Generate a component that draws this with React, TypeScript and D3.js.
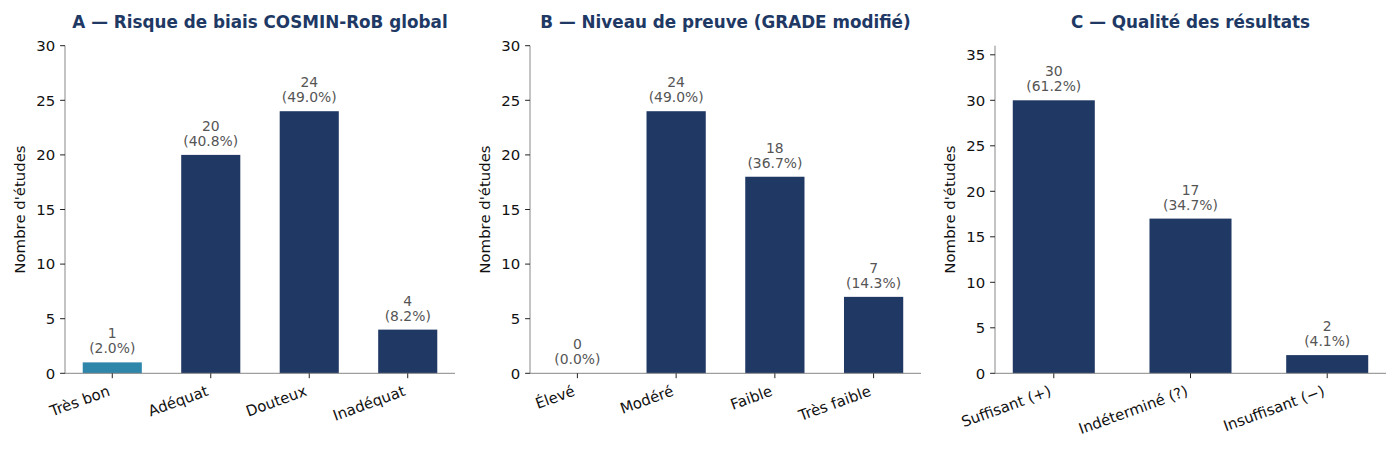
import React from "react";
import * as d3 from "d3";

const titles = [
  "A — Risque de biais COSMIN-RoB global",
  "B — Niveau de preuve (GRADE modifié)",
  "C — Qualité des résultats",
];
const catsA = ["Très bon", "Adéquat", "Douteux", "Inadéquat"];
const valsA = [1, 20, 24, 4];
const pctA = ["2.0%", "40.8%", "49.0%", "8.2%"];
const catsB = ["Élevé", "Modéré", "Faible", "Très faible"];
const valsB = [0, 24, 18, 7];
const pctB = ["0.0%", "49.0%", "36.7%", "14.3%"];
const catsC = ["Suffisant (+)", "Indéterminé (?)", "Insuffisant (−)"];
const valsC = [30, 17, 2];
const pctC = ["61.2%", "34.7%", "4.1%"];
const yMaxes = [30, 30, 36];
const yTicksA = [0, 5, 10, 15, 20, 25, 30];
const yTicksC = [0, 5, 10, 15, 20, 25, 30, 35];
const yLabel = "Nombre d'études";

const NAVY = "#203864";
const TEAL = "#2e86ab";
const FONT = "DejaVu Sans, sans-serif";

type PanelProps = {
  x0: number;
  x1: number;
  title: string;
  cats: string[];
  vals: number[];
  pcts: string[];
  yMax: number;
  ticks: number[];
  colors: string[];
};

function Panel({ x0, x1, title, cats, vals, pcts, yMax, ticks, colors }: PanelProps) {
  const top = 45.7;
  const bottom = 373.3;
  const n = cats.length;
  const span = n - 1 + 0.6;
  const m = span * 0.05;
  const x = d3.scaleLinear().domain([-0.3 - m, n - 1 + 0.3 + m]).range([x0, x1]);
  const y = d3.scaleLinear().domain([0, yMax]).range([bottom, top]);
  const bw = x(0.6) - x(0);
  const tl = 4.9;
  const pad = 4.9;
  return (
    <g>
      <text
        x={(x0 + x1) / 2}
        y={27.5}
        textAnchor="middle"
        fontFamily={FONT}
        fontWeight="bold"
        fontSize={16.8}
        fill={NAVY}
      >
        {title}
      </text>
      {vals.map((v, i) => (
        <rect
          key={"b" + i}
          x={x(i) - bw / 2}
          y={y(v)}
          width={bw}
          height={bottom - y(v)}
          fill={colors[i]}
        />
      ))}
      {vals.map((v, i) => (
        <text
          key={"v" + i}
          x={x(i)}
          textAnchor="middle"
          fontFamily={FONT}
          fontSize={13.9}
          fill="#555"
        >
          <tspan x={x(i)} y={y(v) - 24}>{v}</tspan>
          <tspan x={x(i)} y={y(v) - 9}>({pcts[i]})</tspan>
        </text>
      ))}
      <line x1={x0} x2={x0} y1={top} y2={bottom} stroke="#888" strokeWidth={1} />
      <line x1={x0} x2={x1} y1={bottom} y2={bottom} stroke="#888" strokeWidth={1} />
      {ticks.map((t) => (
        <g key={"t" + t}>
          <line x1={x0 - tl} x2={x0} y1={y(t)} y2={y(t)} stroke="#222" strokeWidth={1} />
          <text
            x={x0 - tl - pad}
            y={y(t)}
            dy="0.36em"
            textAnchor="end"
            fontFamily={FONT}
            fontSize={14.9}
            fill="#111"
          >
            {t}
          </text>
        </g>
      ))}
      {cats.map((c, i) => {
        const ax = x(i) - 1.5;
        const ay = bottom + 21.8;
        return (
          <g key={"c" + i}>
            <line x1={x(i)} x2={x(i)} y1={bottom} y2={bottom + tl} stroke="#222" strokeWidth={1} />
            <text
              x={ax}
              y={ay}
              textAnchor="end"
              transform={`rotate(-20 ${ax} ${ay})`}
              fontFamily={FONT}
              fontSize={14.9}
              fill="#111"
            >
              {c}
            </text>
          </g>
        );
      })}
      <text
        transform={`translate(${x0 - 40} ${(top + bottom) / 2}) rotate(-90)`}
        textAnchor="middle"
        fontFamily={FONT}
        fontSize={14.9}
        fill="#111"
      >
        {yLabel}
      </text>
    </g>
  );
}

export default function App() {
  return (
    <svg
      width={1400}
      height={453}
      style={{ position: "absolute", left: 0, top: 0, background: "#fff" }}
    >
      <rect width={1400} height={453} fill="#fff" />
      <Panel
        x0={65}
        x1={455}
        title={titles[0]}
        cats={catsA}
        vals={valsA}
        pcts={pctA}
        yMax={yMaxes[0]}
        ticks={yTicksA}
        colors={[TEAL, NAVY, NAVY, NAVY]}
      />
      <Panel
        x0={530}
        x1={921}
        title={titles[1]}
        cats={catsB}
        vals={valsB}
        pcts={pctB}
        yMax={yMaxes[1]}
        ticks={yTicksA}
        colors={[NAVY, NAVY, NAVY, NAVY]}
      />
      <Panel
        x0={995}
        x1={1386}
        title={titles[2]}
        cats={catsC}
        vals={valsC}
        pcts={pctC}
        yMax={yMaxes[2]}
        ticks={yTicksC}
        colors={[NAVY, NAVY, NAVY]}
      />
    </svg>
  );
}
